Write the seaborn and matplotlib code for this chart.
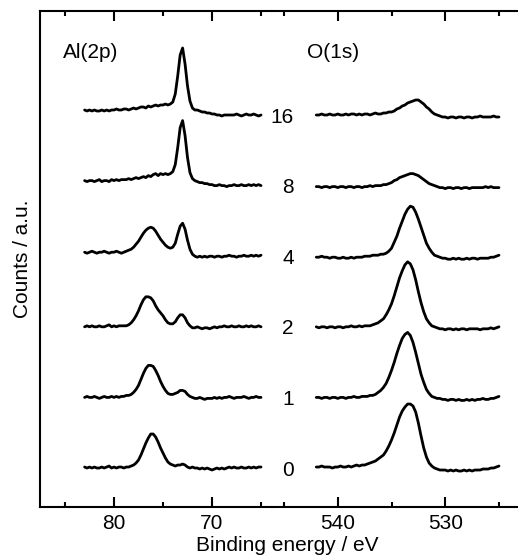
import numpy as np
import pandas as pd
import matplotlib
matplotlib.use("Agg")
import matplotlib.pyplot as plt
import seaborn as sns
from matplotlib.ticker import FixedLocator, NullFormatter

# ---------------- data ----------------
labels = ["0", "1", "2", "4", "8", "16"]
al_energy = np.round(np.arange(83.0, 64.99, -0.25), 2)   # Al(2p) binding energy grid, eV
o_energy = np.round(np.arange(542.0, 524.99, -0.25), 2)  # O(1s) binding energy grid, eV

al_major_ticks = [80, 70]
al_minor_ticks = [85, 75, 65]
o_major_ticks = [540, 530]
o_minor_ticks = [545, 535, 525]

# Al(2p) intensities (arbitrary counts), one value per 0.25 eV from 83.0 down to 65.0
al_0 = [1, 0, 1, 0,  1, 0, 0, 1,  0, 1, 2, 0,  1, 0, 1, 1,  0, 1, 1, 2,
        3, 5, 8, 13,  19, 25, 30, 34,  34, 31, 26, 20,  15, 10, 6, 4,
        3, 2, 3, 3,  4, 3, 1, 0,  1, 0, 0, -1,  0, -1, 0, -1,  -2, -1, 0, -1,
        0, -1, 0, 1,  0, 1, 0, 0,  1, 0, 0, 1,  0, 1, 0, 1,  1]
al_1 = [0, 1, 0, 0,  1, 0, -1, 0,  1, 0, 0, 1,  0, 1, 0, 1,  1, 2, 2, 3,
        5, 8, 12, 18,  24, 29, 32, 32,  31, 27, 22, 16,  11, 7, 4, 3,
        3, 4, 5, 7,  7, 6, 3, 1,  0, -1, -1, 0,  -1, -2, -1, -1,  -1, 0, -1, 0,
        -1, 0, 0, 1,  0, -1, 0, 0,  0, 1, 0, -1,  0, 0, 1, 0,  0]
al_2 = [0, 1, 0, 1,  0, 0, 1, 0,  0, 1, 2, 0,  1, 0, 1, 1,  1, 1, 2, 4,
        7, 11, 16, 22,  27, 30, 30, 29,  26, 21, 17, 14,  11, 7, 4, 3,
        3, 5, 9, 12,  12, 9, 4, 1,  -1, -1, 0, -1,  -2, -1, -1, -2,  -1, 0, -1, 0,
        0, 1, 0, 0,  1, 0, 0, 1,  0, 0, 1, 0,  1, 0, 0, 1,  0]
al_4 = [4, 3, 4, 5,  4, 3, 4, 4,  5, 4, 3, 4,  4, 5, 4, 3,  4, 5, 6, 7,
        9, 12, 15, 19,  23, 26, 28, 29,  28, 25, 21, 17,  14, 11, 9, 8,
        9, 13, 22, 30,  33, 27, 16, 7,  2, 0, -1, 0,  -1, 0, -1, 0,  0, -1, 0, 0,
        -1, 0, 0, 1,  0, 0, -1, 0,  0, 1, 0, 0,  1, 0, 1, 0,  1]
al_8 = [5, 4, 5, 5,  4, 5, 6, 4,  5, 5, 4, 6,  5, 6, 5, 6,  6, 6, 7, 6,
        7, 8, 7, 8,  9, 8, 10, 9,  11, 12, 10, 12,  11, 12, 11, 12,
        14, 21, 38, 58,  65, 50, 28, 13,  7, 5, 4, 3,  3, 2, 2, 1,  1, 0, 0, 1,
        0, 0, -1, 0,  0, 1, 0, 0,  1, 0, 0, 1,  0, 1, 0, 1,  0]
al_16 = [5, 4, 5, 4,  5, 4, 4, 5,  4, 5, 4, 5,  5, 6, 5, 5,  6, 6, 5, 6,
         7, 6, 7, 8,  8, 7, 9, 8,  9, 10, 9, 10,  10, 11, 10, 11,
         13, 21, 39, 60,  67, 51, 29, 14,  7, 5, 5, 4,  3, 3, 2, 2,  1, 1, 0, 0,
         -1, 0, 0, 0,  0, 0, 1, 0,  -1, 0, 1, 0,  0, 1, 0, -1,  0]

# O(1s) intensities (arbitrary counts), one value per 0.25 eV from 542.0 down to 525.0
o_0 = [3, 3, 4, 3,  3, 3, 2, 3,  3, 4, 3, 3,  4, 3, 4, 5,  4, 5, 5, 6,
       7, 8, 9, 11,  13, 15, 19, 24,  30, 37, 45, 53,  59, 63, 66, 66,
       64, 58, 47, 34,  22, 13, 7, 4,  2, 1, 0, 0,  0, -1, 0, -1,
       0, -1, -1, 0,  -1, 0, -1, 0,  0, 0, 1, 1,  1, 2, 2, 3,  4]
o_1 = [2, 2, 1, 2,  2, 1, 2, 2,  1, 2, 2, 1,  2, 2, 3, 2,  2, 3, 3, 3,
       4, 4, 5, 7,  9, 12, 16, 22,  29, 37, 46, 54,  61, 65, 67, 64,
       57, 47, 36, 25,  17, 10, 6, 3,  2, 1, 1, 0,  0, -1, 0, 0,
       -1, 0, -1, -1,  0, -1, 0, -1,  0, 0, 1, 0,  0, 1, 1, 2,  3]
o_2 = [2, 1, 2, 2,  1, 2, 2, 1,  2, 2, 1, 2,  2, 3, 2, 2,  3, 2, 3, 3,
       3, 4, 5, 6,  8, 10, 14, 19,  25, 33, 42, 51,  58, 64, 67, 65,
       59, 49, 37, 26,  17, 10, 6, 3,  2, 1, 0, 0,  -1, 0, 0, -1,
       0, -1, 0, 0,  -1, 0, 0, 0,  0, -1, 0, 0,  0, 1, 0, 1,  2]
o_4 = [1, 1, 2, 1,  1, 0, 1, 1,  0, 0, 1, 0,  0, 1, 0, 1,  1, 1, 2, 2,
       2, 3, 3, 3,  4, 4, 5, 7,  10, 16, 22, 30,  37, 44, 49, 52,
       51, 46, 39, 31,  23, 15, 10, 6,  3, 2, 1, 0,  0, -1, -1, 0,
       -1, 0, -1, -1,  0, -1, 0, 0,  -1, 0, 0, 0,  0, 1, 1, 2,  3]
o_8 = [1, 1, 0, 1,  1, 0, 1, 1,  0, 1, 1, 0,  1, 1, 0, 1,  1, 0, 1, 1,
       2, 1, 2, 2,  2, 3, 3, 4,  5, 7, 8, 10,  11, 12, 13, 14,
       14, 13, 12, 10,  8, 6, 4, 3,  2, 1, 0, 0,  -1, 0, 0, -1,
       0, 0, -1, 0,  0, -1, 0, 0,  0, 0, 0, 1,  0, 1, 0, 0,  0]
o_16 = [2, 2, 3, 2,  2, 3, 2, 2,  3, 2, 2, 3,  2, 3, 3, 2,  3, 2, 3, 3,
        2, 3, 4, 3,  3, 4, 4, 5,  5, 6, 8, 9,  11, 12, 14, 15,
        16, 17, 17, 15,  13, 10, 8, 5,  3, 2, 1, 0,  0, -1, 0, 0,
        -1, 0, 0, -1,  0, 0, -1, 0,  0, 1, 0, 0,  0, 0, 1, 0,  0]

al_series = [al_0, al_1, al_2, al_4, al_8, al_16]
o_series = [o_0, o_1, o_2, o_4, o_8, o_16]

counts_per_step = 70.6   # counts corresponding to the vertical offset between spectra
o_shift = -2             # O(1s) baselines sit slightly lower

# build long-form tables
rows = []
for i, (lab, vals) in enumerate(zip(labels, al_series)):
    for e, v in zip(al_energy, vals):
        rows.append(("Al", lab, e, i + v / counts_per_step))
for i, (lab, vals) in enumerate(zip(labels, o_series)):
    for e, v in zip(o_energy, vals):
        rows.append(("O", lab, e, i + (v + o_shift) / counts_per_step))
df = pd.DataFrame(rows, columns=["core", "label", "energy", "signal"])

# ---------------- style ----------------
sns.set_style("ticks")
plt.rcParams["font.family"] = ["Liberation Sans", "DejaVu Sans"]
plt.rcParams["text.color"] = "black"
plt.rcParams["axes.labelcolor"] = "black"
plt.rcParams["xtick.color"] = "black"
plt.rcParams["ytick.color"] = "black"
plt.rcParams["axes.edgecolor"] = "black"
FS = 15

W, H = 518, 555
fig = plt.figure(figsize=(W / 100, H / 100), dpi=100)
x_left, x_split, x_right = 40, 272, 521
y_top, y_bot = 11, 507
ax1 = fig.add_axes([x_left / W, (H - y_bot) / H, (x_split - x_left) / W, (y_bot - y_top) / H])
ax2 = fig.add_axes([x_split / W, (H - y_bot) / H, (x_right - x_split) / W, (y_bot - y_top) / H])

for core, ax in (("Al", ax1), ("O", ax2)):
    sub = df[df["core"] == core]
    for lab in labels:
        s = sub[sub["label"] == lab]
        sns.lineplot(x=s["energy"].values, y=s["signal"].values, ax=ax, color="black",
                     lw=2.0, sort=False, estimator=None, legend=False)

ylo, yhi = -0.552, 6.473
ax1.set_xlim(87.55, 63.88)
ax2.set_xlim(546.12, 522.95)
for ax, maj, mnr in ((ax1, al_major_ticks, al_minor_ticks), (ax2, o_major_ticks, o_minor_ticks)):
    ax.set_ylim(ylo, yhi)
    ax.xaxis.set_major_locator(FixedLocator(maj))
    ax.xaxis.set_minor_locator(FixedLocator(mnr))
    ax.xaxis.set_minor_formatter(NullFormatter())
    ax.set_xticklabels([str(t) for t in maj])
    ax.tick_params(axis="x", which="major", direction="in", length=7.5, width=1.5,
                   top=True, bottom=True, labelsize=FS, pad=5, colors="black")
    ax.tick_params(axis="x", which="minor", direction="in", length=3.8, width=1.5,
                   top=True, bottom=True, colors="black")
    ax.set_yticks([])
    ax.set_xlabel("")
    ax.set_ylabel("")
    for sp in ax.spines.values():
        sp.set_linewidth(1.5)
        sp.set_color("black")
    ax.set_facecolor("white")

ax1.spines["right"].set_visible(False)
ax2.spines["left"].set_visible(False)

ax1.text(85.2, 5.89, "Al(2p)", ha="left", va="center", fontsize=FS, color="black")
ax2.text(542.86, 5.89, "O(1s)", ha="left", va="center", fontsize=FS, color="black")
for i, lab in enumerate(labels):
    ax2.text(544.1, i + 0.0, lab, ha="right", va="center_baseline", fontsize=FS,
             clip_on=False, color="black")

fig.text(287 / W, (H - 536) / H, "Binding energy / eV", ha="center", va="top",
         fontsize=FS, color="black")
fig.text(23 / W, (H - 259) / H, "Counts / a.u.", ha="center", va="center",
         rotation=90, fontsize=FS, color="black")

fig.savefig("out.png", dpi=100, facecolor="white")
